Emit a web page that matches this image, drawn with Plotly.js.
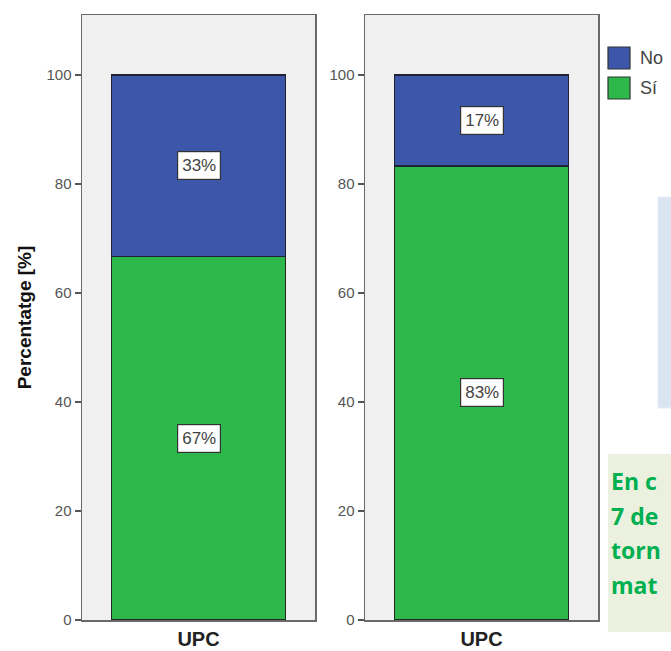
<!DOCTYPE html>
<html>
<head>
<meta charset="utf-8">
<script src="https://cdn.plot.ly/plotly-3.0.1.min.js"></script>
<style>html,body{margin:0;padding:0;background:#fff;}#chart{width:671px;height:651px;}</style>
</head>
<body>
<div id="chart"></div>
<script>
// ---- data ----
const categories = ['UPC'];
const seriesNames = ['No', 'Sí'];
const noValues = [33.3, 16.7];   // panel 1, panel 2
const siValues = [66.7, 83.3];   // panel 1, panel 2
const noLabels = ['33%', '17%'];
const siLabels = ['67%', '83%'];
const yTickVals = [0, 20, 40, 60, 80, 100];
const yTitle = 'Percentatge [%]';
const sideText = ['En c', '7 de', 'torn', 'mat'];

// ---- styles ----
const colNo = '#3c56a9';
const colSi = '#2eb84b';
const W = 671, H = 651;
const px = v => v / W;
const py = v => 1 - v / H;

const axisNames = [['x', 'y'], ['x2', 'y2']];
const traces = [];
const annotations = [];
for (let p = 0; p < 2; p++) {
  const [xa, ya] = axisNames[p];
  traces.push({
    type: 'bar', x: categories, y: [siValues[p]], name: seriesNames[1],
    xaxis: xa, yaxis: ya, width: 0.75, showlegend: false,
    marker: {color: colSi, line: {color: '#1f2a1f', width: 1.2}}, hoverinfo: 'none'
  });
  traces.push({
    type: 'bar', x: categories, y: [noValues[p]], name: seriesNames[0],
    xaxis: xa, yaxis: ya, width: 0.75, showlegend: false,
    marker: {color: colNo, line: {color: '#1f2230', width: 1.2}}, hoverinfo: 'none'
  });
  const lab = (text, yv) => ({
    x: categories[0], y: yv, xref: xa, yref: ya, text: text, showarrow: false,
    bgcolor: '#ffffff', bordercolor: '#333333', borderwidth: 1.2, borderpad: 4,
    font: {family: 'Liberation Sans', size: 17, color: '#444'}
  });
  annotations.push(lab(siLabels[p], siValues[p] / 2));
  annotations.push(lab(noLabels[p], siValues[p] + noValues[p] / 2));
}

function xAxis(domain, anchor) {
  return {
    domain: domain, anchor: anchor, type: 'category', range: [-0.5, 0.5],
    showline: true, mirror: true, linecolor: '#6a6a6a', linewidth: 1.5,
    ticks: '', showgrid: false, zeroline: false, fixedrange: true,
    tickfont: {family: 'Liberation Sans', size: 20, color: '#222', weight: 'bold'}
  };
}
function yAxis(anchor, withTitle) {
  const a = {
    domain: [py(620), py(15)], anchor: anchor, range: [0, 111],
    tickvals: yTickVals, ticks: 'outside', ticklen: 6, tickwidth: 1.5, tickcolor: '#555',
    showline: true, mirror: true, linecolor: '#6a6a6a', linewidth: 1.5,
    showgrid: false, zeroline: false, fixedrange: true,
    tickfont: {family: 'Liberation Sans', size: 15, color: '#555'}
  };
  if (withTitle) {
    a.title = {text: '<b>' + yTitle + '</b>', standoff: 10,
      font: {family: 'Liberation Sans', size: 19, color: '#111'}};
  }
  return a;
}

// legend drawn as swatches + labels
const shapes = [
  {type: 'rect', xref: 'paper', yref: 'paper', x0: px(658), x1: px(680), y0: py(408), y1: py(197),
   fillcolor: '#dbe5f1', line: {color: '#e6edf6', width: 1}, layer: 'below'},
  {type: 'rect', xref: 'paper', yref: 'paper', x0: px(608), x1: px(680), y0: py(632), y1: py(454),
   fillcolor: '#ebf1de', line: {width: 0}, layer: 'below'},
  {type: 'rect', xref: 'paper', yref: 'paper', x0: px(608), x1: px(630), y0: py(69), y1: py(47),
   fillcolor: colNo, line: {color: '#333', width: 1.2}},
  {type: 'rect', xref: 'paper', yref: 'paper', x0: px(608), x1: px(630), y0: py(99), y1: py(77),
   fillcolor: colSi, line: {color: '#333', width: 1.2}}
];
[[seriesNames[0], 58], [seriesNames[1], 88]].forEach(([t, yy]) => annotations.push({
  xref: 'paper', yref: 'paper', x: px(638), y: py(yy), xanchor: 'left', yanchor: 'middle',
  text: t, showarrow: false, font: {family: 'Liberation Sans', size: 18, color: '#444'}
}));
sideText.forEach((t, i) => annotations.push({
  xref: 'paper', yref: 'paper', x: px(609), y: py(481 + i * 34.5), xanchor: 'left', yanchor: 'middle',
  text: '<b>' + t + '</b>', showarrow: false,
  font: {family: 'Open Sans', size: 23, color: '#00b050'}
}));

const layout = {
  width: W, height: H, margin: {l: 0, r: 0, t: 0, b: 0},
  paper_bgcolor: '#ffffff', plot_bgcolor: '#f0f0f0',
  barmode: 'stack', showlegend: false, bargap: 0,
  xaxis: xAxis([px(82), px(315)], 'y'),
  xaxis2: xAxis([px(365), px(598)], 'y2'),
  yaxis: yAxis('x', true),
  yaxis2: yAxis('x2', false),
  annotations: annotations, shapes: shapes
};

Plotly.newPlot('chart', traces, layout, {staticPlot: true});
</script>
</body>
</html>
